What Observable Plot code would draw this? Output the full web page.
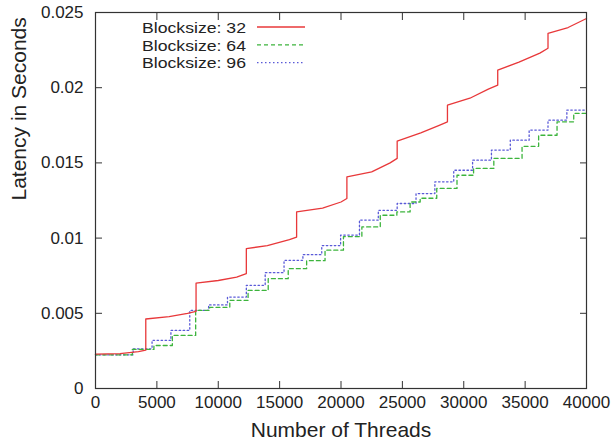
<!DOCTYPE html>
<html>
<head>
<meta charset="utf-8">
<script src="https://cdn.jsdelivr.net/npm/d3@7"></script>
<script src="https://cdn.jsdelivr.net/npm/@observablehq/plot@0.6"></script>
<style>
  html, body { margin: 0; padding: 0; background: #fff; }
  #wrap { position: relative; width: 614px; height: 447px; }
  #legend { position: absolute; left: 0; top: 0; pointer-events: none; }
  text { font-family: "Liberation Sans", Arial, Helvetica, sans-serif; }
</style>
</head>
<body>
<div id="wrap"></div>
<script>
// ---- data ----
const seriesNames = ["Blocksize: 32", "Blocksize: 64", "Blocksize: 96"];
const seriesColors = ["#e8383a", "#3cb43c", "#5a5ad8"];
const seriesDash = [null, "4,3", "1.5,2.5"];

// Blocksize 32 (includes vertical jumps as repeated x)
const b32X = [0, 2000, 3500, 4096, 4096, 6000, 7500, 8192, 8192, 10000, 11500, 12288, 12288, 14000, 15800, 16384,
  16384, 18500, 20000, 20480, 20480, 22500, 24000, 24576, 24576, 26500, 28000, 28672, 28672, 30500, 32000, 32768,
  32768, 34500, 36200, 36864, 36864, 38500, 40000];
const b32Y = [0.00228, 0.00232, 0.00245, 0.00255, 0.00462, 0.00478, 0.00500, 0.00513, 0.00700, 0.00718, 0.00740, 0.00764,
  0.00930, 0.00950, 0.00990, 0.01007, 0.01174, 0.01200, 0.01240, 0.01263, 0.01407, 0.01440, 0.01500, 0.01530,
  0.01645, 0.01700, 0.01750, 0.01773, 0.01884, 0.01930, 0.01990, 0.02017, 0.02117, 0.02170, 0.02230, 0.02262,
  0.02362, 0.02400, 0.02460];

// Blocksize 64 (step levels, step-after)
const b64X = [0, 3000, 4760, 6260, 8160, 9300, 10940, 12430, 14070, 15700, 17200, 18700, 20200, 21700, 23200, 24550,
  25630, 26450, 27800, 29450, 30800, 32450, 34750, 36100, 37600, 38960, 40000];
const b64Y = [0.00224, 0.00260, 0.00286, 0.00353, 0.00520, 0.00540, 0.00586, 0.00652, 0.00730, 0.00797, 0.00850, 0.00920,
  0.01010, 0.01074, 0.01152, 0.01174, 0.01240, 0.01265, 0.01330, 0.01418, 0.01463, 0.01530, 0.01610, 0.01684,
  0.01773, 0.01829, 0.01830];

// Blocksize 96 (step levels, step-after)
const b96X = [0, 3072, 4608, 6144, 7680, 9216, 10752, 12288, 13824, 15360, 16896, 18432, 19968, 21504, 23040, 24576,
  26112, 27648, 29184, 30720, 32256, 33792, 35328, 36864, 38400, 40000];
const b96Y = [0.00224, 0.00264, 0.00320, 0.00386, 0.00519, 0.00556, 0.00608, 0.00686, 0.00770, 0.00852, 0.00890, 0.00950,
  0.01020, 0.01120, 0.01185, 0.01230, 0.01296, 0.01374, 0.01451, 0.01518, 0.01585, 0.01651, 0.01718, 0.01784,
  0.01851, 0.01851];

const xTicks = [0, 5000, 10000, 15000, 20000, 25000, 30000, 35000, 40000];
const yTicks = [0, 0.005, 0.01, 0.015, 0.02, 0.025];
const yTickLabels = ["0", "0.005", "0.01", "0.015", "0.02", "0.025"];
const xTitle = "Number of Threads";
const yTitle = "Latency in Seconds";

// ---- build tables ----
const d32 = b32X.map((x, i) => ({x, y: b32Y[i]}));
const d64 = b64X.map((x, i) => ({x, y: b64Y[i]}));
const d96 = b96X.map((x, i) => ({x, y: b96Y[i]}));

const font = "'Liberation Sans', Arial, Helvetica, sans-serif";
const axisColor = "#333";

const chart = Plot.plot({
  width: 614,
  height: 447,
  marginLeft: 95,
  marginRight: 28,
  marginTop: 12,
  marginBottom: 59,
  style: {fontFamily: font, fontSize: "17px", color: "#222", background: "#fff"},
  x: {domain: [0, 40000]},
  y: {domain: [0, 0.025]},
  marks: [
    Plot.line(d96, {x: "x", y: "y", curve: "step-after", stroke: seriesColors[2], strokeWidth: 1.3, strokeDasharray: seriesDash[2]}),
    Plot.line(d64, {x: "x", y: "y", curve: "step-after", stroke: seriesColors[1], strokeWidth: 1.3, strokeDasharray: seriesDash[1]}),
    Plot.line(d32, {x: "x", y: "y", stroke: seriesColors[0], strokeWidth: 1.3}),
    Plot.frame({stroke: axisColor, strokeWidth: 1.2}),
    Plot.axisX({ticks: xTicks, tickSize: -7, tickPadding: 14, tickFormat: d => String(d), label: null, stroke: axisColor, fill: "#222"}),
    Plot.axisX({anchor: "top", ticks: xTicks, tickSize: -7, tickFormat: () => "", label: null, stroke: axisColor}),
    Plot.axisY({ticks: yTicks, tickSize: -7, tickPadding: 19, tickFormat: (d, i) => yTickLabels[yTicks.indexOf(d)], label: null, stroke: axisColor, fill: "#222"}),
    Plot.axisY({anchor: "right", ticks: yTicks, tickSize: -7, tickFormat: () => "", label: null, stroke: axisColor}),
    Plot.text([xTitle], {frameAnchor: "bottom", dy: 48, fontSize: 21, fill: "#222"}),
    Plot.text([yTitle], {frameAnchor: "left", dx: -76, rotate: -90, fontSize: 21, fill: "#222"})
  ]
});

const wrap = document.getElementById("wrap");
wrap.appendChild(chart);

// ---- legend (gnuplot-style key, inside top-left) ----
const ns = "http://www.w3.org/2000/svg";
const leg = document.createElementNS(ns, "svg");
leg.setAttribute("id", "legend");
leg.setAttribute("width", 614);
leg.setAttribute("height", 447);
const textRight = 246, textWidth = 104, lineX1 = 257, lineX2 = 305, row0 = 27, rowStep = 17.8;
seriesNames.forEach((name, i) => {
  const cy = row0 + i * rowStep;
  const t = document.createElementNS(ns, "text");
  t.setAttribute("x", textRight);
  t.setAttribute("y", cy + 5.8);
  t.setAttribute("text-anchor", "end");
  t.setAttribute("font-size", "15.5px");
  t.setAttribute("textLength", textWidth);
  t.setAttribute("lengthAdjust", "spacingAndGlyphs");
  t.setAttribute("fill", "#222");
  t.textContent = name;
  leg.appendChild(t);
  const l = document.createElementNS(ns, "line");
  l.setAttribute("x1", lineX1); l.setAttribute("x2", lineX2);
  l.setAttribute("y1", cy); l.setAttribute("y2", cy);
  l.setAttribute("stroke", seriesColors[i]);
  l.setAttribute("stroke-width", 1.3);
  if (seriesDash[i]) l.setAttribute("stroke-dasharray", seriesDash[i]);
  leg.appendChild(l);
});
wrap.appendChild(leg);
</script>
</body>
</html>
